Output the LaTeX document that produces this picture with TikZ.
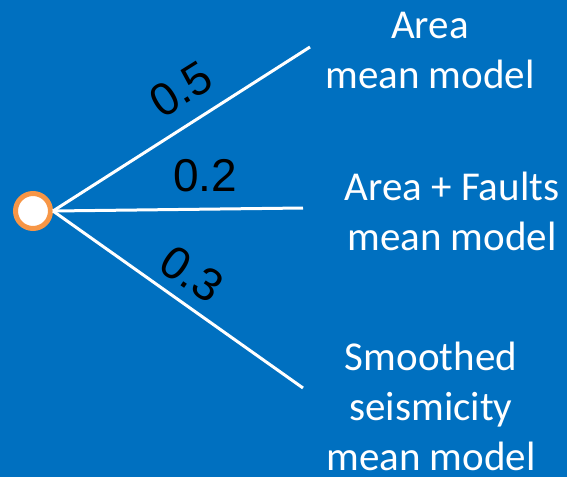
\documentclass[tikz,border=0pt]{standalone}
\usepackage{fontspec}
\setmainfont{Carlito}
\newfontfamily\numfont{Liberation Sans}
\definecolor{bgblue}{HTML}{0070C0}
\definecolor{ringorange}{HTML}{F79646}
\begin{document}
\begin{tikzpicture}[x=1pt,y=-1pt,
  branch/.style={draw=white,line width=3pt},
  leaf/.style={text=white,align=center,inner sep=0pt,anchor=base,
    font=\fontsize{41}{50}\selectfont},
  prob/.style={text=black,inner sep=0pt,font=\numfont\fontsize{46}{50}\selectfont}]
\fill[bgblue] (0,0) rectangle (567,477);
\useasboundingbox (0,0) rectangle (567,477);
\node[circle,draw=ringorange,fill=white,line width=5pt,minimum size=35pt,inner sep=0pt] (root) at (33,211) {};
\coordinate (e1) at (310,47);
\coordinate (e2) at (303,208);
\coordinate (e3) at (303,388);
\draw[branch] (root.east) -- (e1);
\draw[branch] (root.east) -- (e2);
\draw[branch] (root.east) -- (e3);
\node[prob,rotate=32] (p1) at (181,89) {0.5};
\node[prob] (p2) at (205,176) {0.2};
\node[prob,rotate=-34] (p3) at (192,274) {0.3};
\node[leaf] (t1) at (430,88) {Area\\mean model};
\node[leaf] (t2) at (452,250) {Area + Faults\\mean model};
\node[leaf] (t3) at (431,470) {Smoothed\\seismicity\\mean model};
\end{tikzpicture}
\end{document}
